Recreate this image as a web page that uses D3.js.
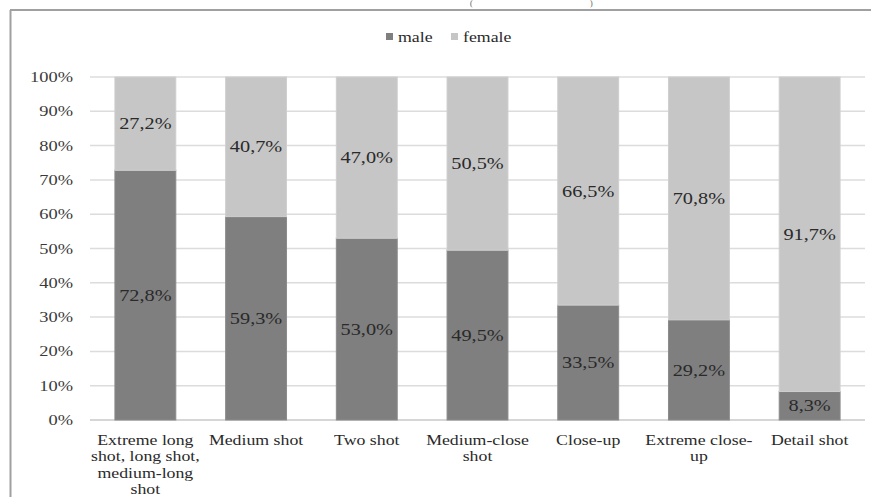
<!DOCTYPE html>
<html>
<head>
<meta charset="utf-8">
<script src="https://cdn.jsdelivr.net/npm/d3@7"></script>
<style>
  html, body { margin: 0; padding: 0; background: #fff; }
  svg { display: block; font-family: "Liberation Serif", "DejaVu Serif", serif; }
</style>
</head>
<body>
<svg id="chart" width="871" height="497"></svg>
<script>
// ---- data ----
const categories = [
  "Extreme long shot, long shot, medium-long shot",
  "Medium shot",
  "Two shot",
  "Medium-close shot",
  "Close-up",
  "Extreme close-up",
  "Detail shot"
];
const categoryLines = [
  ["Extreme long", "shot, long shot,", "medium-long", "shot"],
  ["Medium shot"],
  ["Two shot"],
  ["Medium-close", "shot"],
  ["Close-up"],
  ["Extreme close-", "up"],
  ["Detail shot"]
];
const male   = [72.8, 59.3, 53.0, 49.5, 33.5, 29.2, 8.3];
const female = [27.2, 40.7, 47.0, 50.5, 66.5, 70.8, 91.7];
const seriesNames = ["male", "female"];
const yTicks = [0, 10, 20, 30, 40, 50, 60, 70, 80, 90, 100];

// ---- drawing ----
const colors = { male: "#7f7f7f", female: "#c6c6c6" };
const SX = 1.27; // horizontal stretch of the original screenshot's text
const svg = d3.select("#chart");

function stretched(parent, x, y, str, size, anchor, fill) {
  return parent.append("g").attr("transform", `translate(${x},${y}) scale(${SX},1)`)
    .append("text").attr("x", 0).attr("y", 0)
    .attr("text-anchor", anchor).attr("font-size", size).attr("fill", fill)
    .attr("dy", "0.35em").text(str);
}

// frame
svg.append("line").attr("x1", 10).attr("x2", 871).attr("y1", 10).attr("y2", 10)
  .attr("stroke", "#a0a0a0").attr("stroke-width", 2);
svg.append("line").attr("x1", 10.5).attr("x2", 10.5).attr("y1", 10).attr("y2", 497)
  .attr("stroke", "#a0a0a0").attr("stroke-width", 2);

// title remnants at the top edge
svg.append("text").attr("x", 470).attr("y", 6).attr("font-size", 8).attr("fill", "#555").text("(");
svg.append("text").attr("x", 590).attr("y", 6).attr("font-size", 8).attr("fill", "#555").text(")");

const x = d3.scaleBand().domain(categories).range([90, 865]).paddingInner(0.45).paddingOuter(0.225);
const y = d3.scaleLinear().domain([0, 100]).range([420, 77]);

// grid
svg.append("g").selectAll("line").data(yTicks).join("line")
  .attr("x1", 90).attr("x2", 865)
  .attr("y1", d => y(d)).attr("y2", d => y(d))
  .attr("stroke", d => d === 0 ? "#c8c8c8" : "#dcdcdc").attr("stroke-width", 1.5);

// y axis labels (positions from the d3 axis scale)
const gy = svg.append("g");
const yAxisTicks = y.ticks(10).filter(t => yTicks.includes(t));
yAxisTicks.forEach(t => stretched(gy, 73, y(t), t + "%", 14.5, "end", "#3a3a3a"));

// stacked bars
const rows = categories.map((c, i) => ({ cat: c, male: male[i], female: female[i] }));
const stack = d3.stack().keys(seriesNames)(rows);
const g = svg.append("g");
stack.forEach(layer => {
  const key = layer.key;
  g.append("g").selectAll("rect").data(layer).join("rect")
    .attr("x", d => x(d.data.cat))
    .attr("width", x.bandwidth())
    .attr("y", d => y(d[1]))
    .attr("height", d => y(d[0]) - y(d[1]))
    .attr("fill", colors[key])
    .attr("stroke", key === "male" ? "#8c8c8c" : "#cfcfcf")
    .attr("stroke-width", 1);
  const lg = g.append("g");
  layer.forEach(d => {
    stretched(lg, x(d.data.cat) + x.bandwidth() / 2, (y(d[0]) + y(d[1])) / 2,
      (d[1] - d[0]).toFixed(1).replace(".", ",") + "%", 16, "middle", "#2a2a2a");
  });
});

// x axis category labels
const gx = svg.append("g");
categories.forEach((c, i) => {
  categoryLines[i].forEach((ln, j) => {
    stretched(gx, x(c) + x.bandwidth() / 2, 440 + j * 16.5, ln, 14, "middle", "#2a2a2a");
  });
});

// legend
const legend = svg.append("g");
const legendX = [386, 451];
seriesNames.forEach((s, i) => {
  legend.append("rect").attr("x", legendX[i]).attr("y", 33).attr("width", 7).attr("height", 7)
    .attr("fill", colors[s]);
  stretched(legend, legendX[i] + 12, 37, s, 14, "start", "#2a2a2a");
});
</script>
</body>
</html>
